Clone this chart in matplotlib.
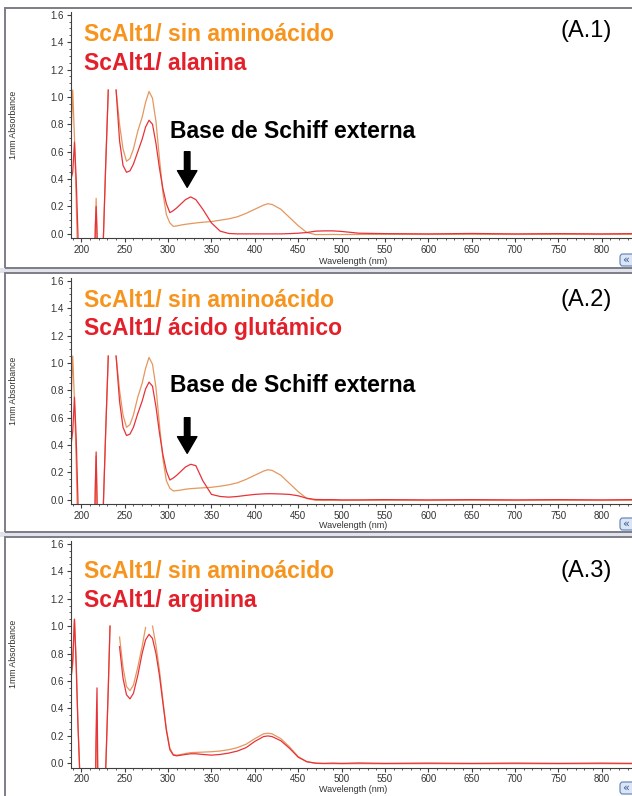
import numpy as np
import matplotlib.pyplot as plt
from matplotlib.patches import Rectangle, FancyBboxPatch
from matplotlib.ticker import MultipleLocator

nan = np.nan

# longitudes de onda comunes (nm)
wavelength = [188, 190, 192, 194, 196, 198, 214, 216, 217, 218, 220, 224, 228, 231, 233, 238,
              240, 244, 248, 252, 256, 260, 265, 270, 274, 278, 282, 286, 290, 294, 298, 302,
              306, 310, 315, 320, 326, 332, 340, 350, 360, 370, 380, 390, 400, 410, 415, 420,
              430, 440, 450, 460, 470, 480, 490, 500, 520, 550, 600, 650, 700, 750, 800, 835]

# (A.1) sin aminoacido / alanina
sin_aa_1 = [0.70, 1.05, 0.70, 0.25, -0.30, -0.80, -0.80, 0.00, 0.26, 0.00, -0.80, -0.30, 0.50, 1.05, nan, nan,
            1.05, 0.80, 0.62, 0.53, 0.55, 0.62, 0.75, 0.85, 0.96, 1.04, 0.99, 0.82, 0.55, 0.30, 0.14, 0.08,
            0.055, 0.058, 0.065, 0.07, 0.075, 0.08, 0.085, 0.09, 0.10, 0.11, 0.125, 0.15, 0.18, 0.21, 0.22, 0.215,
            0.18, 0.12, 0.06, 0.01, -0.005, -0.005, -0.004, -0.005, -0.004, -0.003, -0.004, -0.003, -0.004, -0.003, -0.004, -0.003]
alanina = [0.40, 0.45, 0.67, 0.40, 0.00, -0.80, -0.80, 0.05, 0.20, 0.00, -0.80, -0.30, 0.50, 1.05, nan, nan,
           1.05, 0.68, 0.50, 0.45, 0.46, 0.51, 0.60, 0.69, 0.78, 0.83, 0.80, 0.66, 0.48, 0.33, 0.22, 0.155,
           0.17, 0.19, 0.22, 0.25, 0.27, 0.25, 0.18, 0.08, 0.02, 0.003, 0.0, 0.0, 0.0, 0.0, 0.0, 0.0,
           0.0, 0.002, 0.005, 0.01, 0.02, 0.022, 0.022, 0.018, 0.005, 0.002, 0.0, 0.003, 0.0, 0.002, 0.0, 0.002]

# (A.2) sin aminoacido / acido glutamico
sin_aa_2 = [0.70, 1.05, 0.72, 0.28, -0.30, -0.80, -0.80, 0.05, 0.32, 0.00, -0.80, -0.30, 0.50, 1.05, nan, nan,
            1.05, 0.80, 0.62, 0.53, 0.55, 0.62, 0.75, 0.85, 0.96, 1.04, 0.99, 0.82, 0.55, 0.30, 0.14, 0.085,
            0.065, 0.068, 0.072, 0.078, 0.082, 0.085, 0.088, 0.092, 0.10, 0.11, 0.125, 0.15, 0.18, 0.21, 0.22, 0.215,
            0.18, 0.12, 0.06, 0.01, -0.003, -0.004, -0.003, -0.004, -0.003, -0.003, -0.004, -0.003, -0.004, -0.003, -0.004, -0.003]
glutamico = [0.40, 0.50, 0.75, 0.45, 0.00, -0.80, -0.80, 0.10, 0.35, 0.00, -0.80, -0.30, 0.50, 1.05, nan, nan,
             1.05, 0.72, 0.53, 0.47, 0.48, 0.53, 0.63, 0.72, 0.81, 0.86, 0.83, 0.68, 0.49, 0.33, 0.21, 0.145,
             0.16, 0.18, 0.21, 0.24, 0.26, 0.25, 0.14, 0.04, 0.025, 0.02, 0.025, 0.033, 0.04, 0.044, 0.045, 0.045,
             0.043, 0.04, 0.03, 0.012, 0.003, 0.002, 0.002, 0.0, 0.0, 0.002, 0.0, 0.002, 0.0, 0.002, 0.0, 0.002]

# (A.3) sin aminoacido / arginina
sin_aa_3 = [0.62, 0.72, 1.05, 0.75, 0.30, -0.05, -0.80, -0.30, 0.15, 0.30, -0.80, -0.50, -0.05, 0.55, 1.00, nan,
            nan, 0.92, 0.70, 0.56, 0.53, 0.57, 0.70, 0.85, 0.99, nan, 1.00, 0.86, 0.68, 0.46, 0.25, 0.11,
            0.065, 0.06, 0.065, 0.072, 0.078, 0.08, 0.082, 0.085, 0.09, 0.10, 0.115, 0.14, 0.18, 0.215, 0.22, 0.215,
            0.18, 0.12, 0.05, 0.012, 0.0, -0.002, -0.002, -0.003, -0.002, -0.003, -0.002, -0.003, -0.002, -0.003, -0.002, -0.003]
arginina = [0.62, 0.75, 1.05, 0.70, 0.28, -0.05, -0.80, -0.30, 0.25, 0.55, -0.80, -0.50, -0.05, 0.55, 1.00, nan,
            nan, 0.85, 0.62, 0.50, 0.47, 0.51, 0.64, 0.80, 0.90, 0.94, 0.91, 0.80, 0.64, 0.44, 0.24, 0.10,
            0.06, 0.055, 0.06, 0.065, 0.07, 0.07, 0.065, 0.06, 0.065, 0.075, 0.09, 0.115, 0.16, 0.195, 0.20, 0.195,
            0.165, 0.11, 0.045, 0.012, 0.002, 0.0, 0.002, 0.0, 0.003, 0.0, 0.002, 0.0, 0.002, 0.0, 0.002, 0.0]

panel_tags = ["(A.1)", "(A.2)", "(A.3)"]
red_labels = ["ScAlt1/ alanina", "ScAlt1/ ácido glutámico", "ScAlt1/ arginina"]
orange_series = [sin_aa_1, sin_aa_2, sin_aa_3]
red_series = [alanina, glutamico, arginina]
schiff = [True, True, False]

W, H = 632, 796
fig = plt.figure(figsize=(W / 100, H / 100), dpi=100)
fig.patch.set_facecolor("white")


def fx(x):
    return x / W


def fy(y):
    return 1 - y / H


# pixel layout of the three spectrometer windows
frames = [(5, 8, 268), (5, 273, 532), (5, 537, 800)]
axes_px = [(12, 238), (278, 504), (541, 767.5)]
xlabel_y = [262, 526, 789]
text_px = [(41, 70, 37, 138), (307, 335, 306, 392), (578, 607, 577, None)]

line_orange = "#e5975e"
line_red = "#e8323a"
txt_orange = "#f7941d"
txt_red = "#e3202a"
bold = dict(family="Liberation Sans", weight="bold", fontsize=16.5)

# light band between windows
for y0, y1 in [(268, 273), (532, 537)]:
    fig.patches.append(Rectangle((0, fy(y1)), 1, (y1 - y0) / H, transform=fig.transFigure,
                                 facecolor="#e2e2ea", edgecolor="none", zorder=-2))

for i in range(3):
    x0, top, bot = frames[i]
    fig.patches.append(Rectangle((fx(x0), fy(bot)), 1.2, (bot - top) / H, transform=fig.transFigure,
                                 fill=False, edgecolor="#7d7d88", linewidth=1.4, zorder=5))

    at, ab = axes_px[i]
    ax = fig.add_axes([fx(71), fy(ab), 1 - fx(71), (ab - at) / H])
    ax.set_facecolor("none")
    ax.plot(wavelength, orange_series[i], color=line_orange, lw=0.9)
    ax.plot(wavelength, red_series[i], color=line_red, lw=0.9)
    ax.set_xlim(188, 835)
    ax.set_ylim(-0.03, 1.62)
    ax.set_xticks(np.arange(200, 801, 50))
    ax.set_yticks(np.arange(0, 1.61, 0.2))
    ax.set_yticklabels([f"{v:.1f}" for v in np.arange(0, 1.61, 0.2)])
    ax.xaxis.set_minor_locator(MultipleLocator(10))
    ax.yaxis.set_minor_locator(MultipleLocator(0.05))
    for s in ["top", "right"]:
        ax.spines[s].set_visible(False)
    for s in ["left", "bottom"]:
        ax.spines[s].set_color("#404040")
        ax.spines[s].set_linewidth(0.8)
    ax.tick_params(which="major", length=3, width=0.8, color="#404040", labelsize=7,
                   labelcolor="#333333", pad=2)
    ax.tick_params(which="minor", length=1.5, width=0.6, color="#404040")
    for lab in ax.get_xticklabels() + ax.get_yticklabels():
        lab.set_family("Liberation Sans")

    fig.text(fx(14), fy((at + ab) / 2), "1mm Absorbance", rotation=90, ha="center", va="center",
             fontsize=6.3, family="Liberation Sans", color="#333333")
    fig.text(fx(353), fy(xlabel_y[i]), "Wavelength (nm)", ha="center", va="center",
             fontsize=6.5, family="Liberation Sans", color="#333333")

    # little button at the lower right corner of each window
    by = min(bot, 796) - 2
    fig.patches.append(FancyBboxPatch((fx(620), fy(by)), fx(16), (12 / H),
                                      boxstyle="round,pad=0,rounding_size=0.004", transform=fig.transFigure,
                                      facecolor="#dbe5f3", edgecolor="#5b7fb5", linewidth=0.8, zorder=6))
    fig.text(fx(622), fy(by - 6), "«", fontsize=8, color="#2f5597", va="center", ha="left", zorder=7)

    y_or, y_red, y_tag, y_base = text_px[i]
    fig.text(fx(84), fy(y_or), "ScAlt1/ sin aminoácido", color=txt_orange, va="baseline", **bold)
    fig.text(fx(84), fy(y_red), red_labels[i], color=txt_red, va="baseline", **bold)
    fig.text(fx(612), fy(y_tag), panel_tags[i], ha="right", va="baseline", fontsize=17,
             family="Liberation Sans", color="black")
    if schiff[i]:
        fig.text(fx(170), fy(y_base), "Base de Schiff externa", color="black", va="baseline", **bold)
        ax.annotate("", xy=(322, 0.34), xytext=(322, 0.60),
                    arrowprops=dict(arrowstyle="simple,head_length=1.2,head_width=1.4,tail_width=0.4",
                                    color="black", mutation_scale=10, shrinkA=0, shrinkB=0))

fig.savefig("out.png", dpi=100)
